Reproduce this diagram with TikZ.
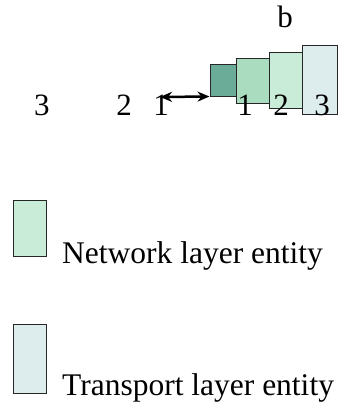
\documentclass[tikz,border=0pt]{standalone}
\usepackage{fontspec}
\setmainfont{Liberation Serif}
\usepackage{tikz}
\usetikzlibrary{arrows.meta}
\definecolor{entitydark}{RGB}{106, 172, 152}
\definecolor{entitymid}{RGB}{170, 220, 192}
\definecolor{networkgreen}{RGB}{200, 236, 216}
\definecolor{transportgray}{RGB}{221, 236, 236}

\begin{document}
\begin{tikzpicture}[
        x=1pt, y=-1pt,
        layerbox/.style={rectangle, draw=black!85, line width=1pt, inner sep=0pt},
        num/.style={anchor=base, inner sep=0pt, font=\fontsize{31}{33}\selectfont},
        legendtext/.style={anchor=base west, inner sep=0pt, font=\fontsize{31.5}{33}\selectfont},
        link/.style={{Stealth[length=12pt, width=10pt]}-{Stealth[length=12pt, width=10pt]}, line width=2.5pt}
    ]
    \useasboundingbox (0,0) rectangle (343,407);

    % Stack of entities
    \node[layerbox, fill=entitydark, minimum width=26pt, minimum height=32pt] (boxa) at (223, 80) {};
    \node[layerbox, fill=entitymid, minimum width=33pt, minimum height=45pt] (boxb) at (253, 80.8) {};
    \node[layerbox, fill=networkgreen, minimum width=33.4pt, minimum height=55.6pt] (boxc) at (286, 80.5) {};
    \node[layerbox, fill=transportgray, minimum width=34.6pt, minimum height=69.3pt] (boxd) at (320, 80.3) {};

    % Numbering
    \node[num] (top) at (285, 27) {b};
    \node[num] (lthree) at (42, 115.5) {3};
    \node[num] (ltwo) at (124, 115.5) {2};
    \node[num] (lone) at (161, 115.5) {1};
    \node[num] (rone) at (245, 115.5) {1};
    \node[num] (rtwo) at (281, 115.5) {2};
    \node[num] (rthree) at (322, 115.5) {3};

    % Link to the stack
    \coordinate (linkend) at (160, 97);
    \draw[link] (linkend) -- (boxa.south west);

    % Legend
    \node[layerbox, fill=networkgreen, minimum width=33pt, minimum height=56pt] (netkey) at (30, 228) {};
    \node[legendtext] (nettext) at (62, 263) {Network layer entity};
    \node[layerbox, fill=transportgray, minimum width=33pt, minimum height=69pt] (transkey) at (30, 358.5) {};
    \node[legendtext] (transtext) at (62, 395) {Transport layer entity};

\end{tikzpicture}
\end{document}
